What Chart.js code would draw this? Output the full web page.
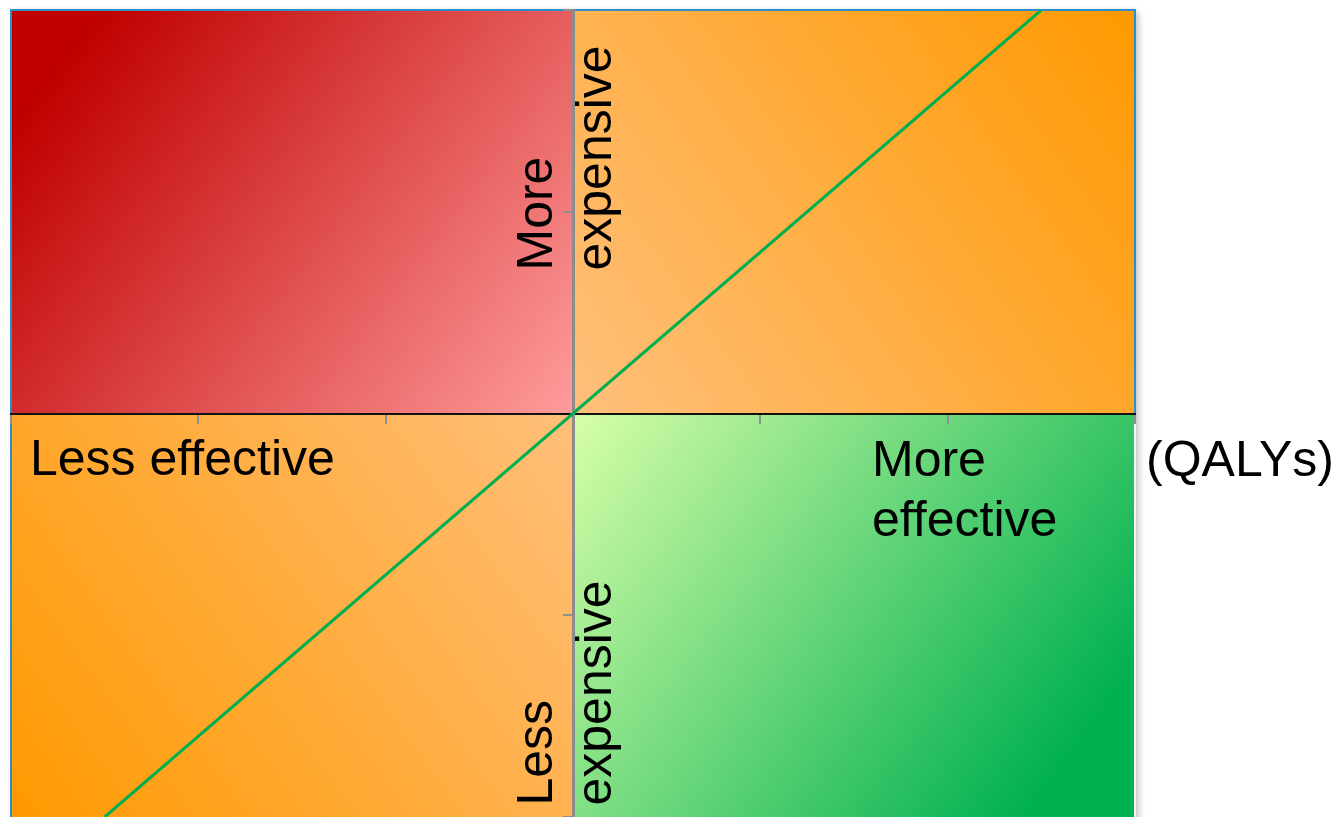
<!DOCTYPE html>
<html>
<head>
<meta charset="utf-8">
<title>Cost-effectiveness plane</title>
<script src="https://cdn.jsdelivr.net/npm/chart.js@4/dist/chart.umd.min.js"></script>
<style>
  html, body { margin: 0; padding: 0; background: #ffffff; }
  #wrap { width: 1335px; height: 817px; position: relative; }
  canvas { display: block; }
</style>
</head>
<body>
<div id="wrap"><canvas id="plane" width="1335" height="817"></canvas></div>
<script>
// Axis ranges (incremental effect on x, incremental cost on y)
const effectRange = [-3, 3];
const costRange = [-2, 2];
const tickStep = 1;

// Willingness-to-pay threshold line
const thresholdEffect = [-2.5, 2.5];
const thresholdCost = [-2, 2];

// Quadrant gradients: [colour near origin, colour at far corner]
const quadrantColours = {
  topLeft: ['#ff9c9c', '#c00000'],
  topRight: ['#ffc07c', '#ff9900'],
  bottomLeft: ['#ffbf7a', '#ff9900'],
  bottomRight: ['#d8ffa8', '#00b050']
};

// Text labels
const xAxisUnit = '(QALYs)';
const lessEffective = 'Less effective';
const moreEffective = ['More', 'effective'];
const moreExpensive = ['More', 'expensive'];
const lessExpensive = ['Less', 'expensive'];

const FONT = '50px "Liberation Sans", Arial, sans-serif';

const thresholdPoints = thresholdEffect.map((x, i) => ({ x: x, y: thresholdCost[i] }));

const quadrantPlugin = {
  id: 'quadrants',
  beforeDraw(chart) {
    const { ctx, chartArea: a, scales } = chart;
    const x0 = scales.x.getPixelForValue(0);
    const y0 = scales.y.getPixelForValue(0);
    ctx.save();
    // soft drop shadow behind the plane
    ctx.shadowColor = 'rgba(0,0,0,0.28)';
    ctx.shadowBlur = 7;
    ctx.shadowOffsetX = 3;
    ctx.shadowOffsetY = 2;
    ctx.fillStyle = '#ffffff';
    ctx.fillRect(a.left, a.top, a.right - a.left, a.bottom - a.top + 20);
    ctx.restore();

    function quad(l, t, r, b, fromX, fromY, toX, toY, cols) {
      const g = ctx.createLinearGradient(fromX, fromY, toX, toY);
      g.addColorStop(0, cols[0]);
      g.addColorStop(1, cols[1]);
      ctx.fillStyle = g;
      ctx.fillRect(l, t, r - l, b - t);
    }
    ctx.save();
    quad(a.left, a.top, x0, y0, x0, y0, a.left + 70, a.top + 30, quadrantColours.topLeft);
    quad(x0, a.top, a.right, y0, x0, y0, a.right, a.top, quadrantColours.topRight);
    quad(a.left, y0, x0, a.bottom, x0, y0, a.left, a.bottom, quadrantColours.bottomLeft);
    quad(x0, y0, a.right, a.bottom, x0, y0, a.right - 80, a.bottom - 40, quadrantColours.bottomRight);

    // frame
    ctx.lineWidth = 2;
    ctx.strokeStyle = '#2b8fca';
    ctx.beginPath();
    ctx.moveTo(a.left, a.bottom + 2);
    ctx.lineTo(a.left, a.top);
    ctx.lineTo(a.right, a.top);
    ctx.lineTo(a.right, y0);
    ctx.stroke();
    ctx.strokeStyle = '#f4f4f4';
    ctx.beginPath();
    ctx.moveTo(a.right, y0 + 2);
    ctx.lineTo(a.right, a.bottom + 2);
    ctx.stroke();
    ctx.restore();
  },
  afterDraw(chart) {
    const { ctx, chartArea: a, scales } = chart;
    const x0 = scales.x.getPixelForValue(0);
    const y0 = scales.y.getPixelForValue(0);
    ctx.save();
    ctx.fillStyle = '#000000';
    ctx.font = FONT;
    ctx.textAlign = 'left';
    ctx.textBaseline = 'alphabetic';

    ctx.fillText(lessEffective, a.left + 19, y0 + 61);
    ctx.fillText(moreEffective[0], x0 + 299, y0 + 62);
    ctx.fillText(moreEffective[1], x0 + 299, y0 + 122);
    ctx.fillText(xAxisUnit, a.right + 11, y0 + 62);

    function vertical(text, baseX, startY) {
      ctx.save();
      ctx.translate(baseX, startY);
      ctx.rotate(-Math.PI / 2);
      ctx.fillText(text, 0, 0);
      ctx.restore();
    }
    vertical(moreExpensive[0], x0 - 21, y0 - 143);
    vertical(moreExpensive[1], x0 + 38, y0 - 143);
    vertical(lessExpensive[0], x0 - 21, y0 + 392);
    vertical(lessExpensive[1], x0 + 38, y0 + 392);
    ctx.restore();
  }
};

new Chart(document.getElementById('plane'), {
  type: 'scatter',
  data: {
    datasets: [{
      label: 'Threshold',
      data: thresholdPoints,
      showLine: true,
      borderColor: '#00b050',
      borderWidth: 3,
      pointRadius: 0,
      pointHoverRadius: 0,
      fill: false
    }]
  },
  options: {
    responsive: false,
    animation: false,
    events: [],
    layout: { padding: { left: 11, top: 10, right: 200, bottom: 0 } },
    plugins: {
      legend: { display: false },
      tooltip: { enabled: false },
      title: { display: false }
    },
    scales: {
      x: {
        type: 'linear',
        min: effectRange[0],
        max: effectRange[1],
        position: { y: 0 },
        ticks: { display: false, stepSize: tickStep },
        grid: { drawOnChartArea: false, drawTicks: true, tickLength: 9, color: '#8f8f8f', lineWidth: 2 },
        border: { display: true, color: '#111111', width: 2 }
      },
      y: {
        type: 'linear',
        min: costRange[0],
        max: costRange[1],
        position: { x: 0 },
        ticks: { display: false, stepSize: tickStep },
        grid: { drawOnChartArea: false, drawTicks: true, tickLength: 9, color: '#8f8f8f', lineWidth: 2 },
        border: { display: true, color: '#8c8c8c', width: 3 }
      }
    }
  },
  plugins: [quadrantPlugin]
});
</script>
</body>
</html>
